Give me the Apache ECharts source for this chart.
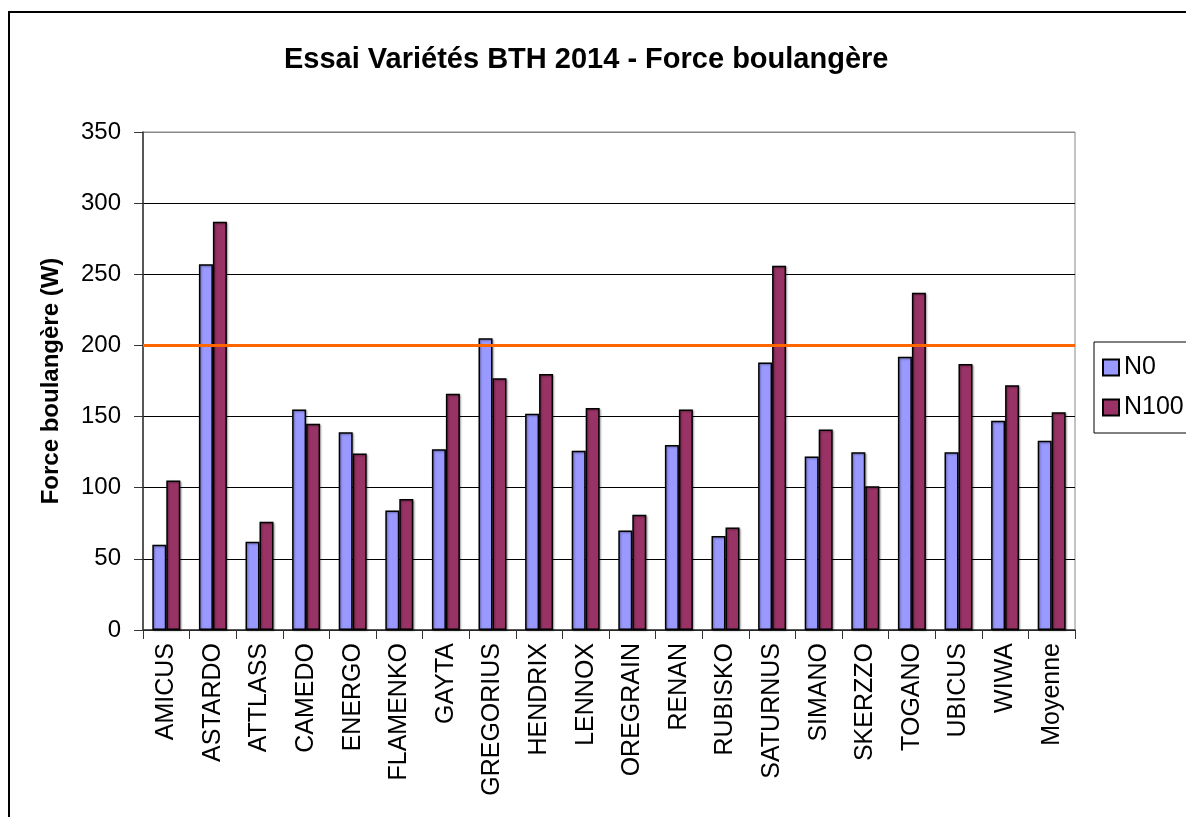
<!DOCTYPE html>
<html>
<head>
<meta charset="utf-8">
<script src="https://cdn.jsdelivr.net/npm/echarts@6/dist/echarts.min.js"></script>
<style>
  html, body { margin: 0; padding: 0; background: #fff; }
  #main { width: 1186px; height: 817px; }
</style>
</head>
<body>
<div id="main"></div>
<script>
  const varieties = ['AMICUS', 'ASTARDO', 'ATTLASS', 'CAMEDO', 'ENERGO', 'FLAMENKO', 'GAYTA', 'GREGORIUS', 'HENDRIX', 'LENNOX',
    'OREGRAIN', 'RENAN', 'RUBISKO', 'SATURNUS', 'SIMANO', 'SKERZZO', 'TOGANO', 'UBICUS', 'WIWA', 'Moyenne']
  const n0 = [60, 257, 62, 155, 139, 84, 127, 205, 152, 126, 70, 130, 66, 188, 122, 125, 192, 125, 147, 133]
  const n100 = [105, 287, 76, 145, 124, 92, 166, 177, 180, 156, 81, 155, 72, 256, 141, 101, 237, 187, 172, 153]
  const seuil = 200

  const FONT = "'Liberation Sans', Arial, sans-serif"
  const barShadow = {
    borderColor: '#000',
    borderWidth: 1.5,
    shadowColor: 'rgba(0, 0, 0, 0.35)',
    shadowBlur: 2,
    shadowOffsetX: 1,
    shadowOffsetY: 1
  }

  const chart = echarts.init(document.getElementById('main'))
  chart.setOption({
    animation: false,
    textStyle: { fontFamily: FONT },
    title: {
      text: 'Essai Variétés BTH 2014 - Force boulangère',
      left: 279,
      top: 40,
      textStyle: { fontFamily: FONT, fontSize: 29, fontWeight: 'bold', color: '#000' }
    },
    graphic: [{
      type: 'rect',
      shape: { x: 9, y: 12, width: 1300, height: 900 },
      style: { fill: 'none', stroke: '#000', lineWidth: 2 },
      z: -1
    }],
    legend: {
      orient: 'vertical',
      left: 1094,
      top: 342,
      padding: [13, 60, 13, 8],
      itemGap: 15,
      itemWidth: 16,
      itemHeight: 16,
      icon: 'rect',
      borderColor: '#000',
      borderWidth: 1,
      textStyle: { fontFamily: FONT, fontSize: 25, color: '#000' },
      data: ['N0', 'N100']
    },
    grid: {
      left: 143,
      top: 132,
      right: 111,
      bottom: 187,
      show: true,
      borderColor: '#888',
      borderWidth: 1
    },
    xAxis: {
      type: 'category',
      data: varieties,
      axisLine: { lineStyle: { color: '#333', width: 1.5 } },
      axisTick: { show: true, length: 9, lineStyle: { color: '#333' } },
      axisLabel: {
        rotate: 90,
        margin: 13,
        interval: 0,
        fontFamily: FONT,
        fontSize: 25,
        color: '#000'
      }
    },
    yAxis: {
      type: 'value',
      min: 0,
      max: 350,
      interval: 50,
      name: 'Force boulangère (W)',
      nameLocation: 'middle',
      nameGap: 80,
      nameTextStyle: { fontFamily: FONT, fontSize: 24, fontWeight: 'bold', color: '#000' },
      axisLine: { show: true, lineStyle: { color: '#333', width: 1.5 } },
      axisTick: { show: true, length: 9, lineStyle: { color: '#333' } },
      axisLabel: { margin: 22, fontFamily: FONT, fontSize: 24, color: '#000' },
      splitLine: {
        lineStyle: {
          color: ['#000', '#000', '#000', '#000', '#000', '#000', '#000', '#888'],
          width: 1
        }
      }
    },
    series: [
      {
        name: 'N0',
        type: 'bar',
        data: n0,
        barGap: '0%',
        barCategoryGap: '40%',
        itemStyle: Object.assign({ color: '#9999FF' }, barShadow)
      },
      {
        name: 'N100',
        type: 'bar',
        data: n100,
        barGap: '0%',
        barCategoryGap: '40%',
        itemStyle: Object.assign({ color: '#993366' }, barShadow),
        markLine: {
          silent: true,
          symbol: 'none',
          label: { show: false },
          lineStyle: { color: '#FF6600', width: 3, type: 'solid' },
          data: [{ yAxis: seuil }]
        }
      }
    ]
  })
</script>
</body>
</html>
